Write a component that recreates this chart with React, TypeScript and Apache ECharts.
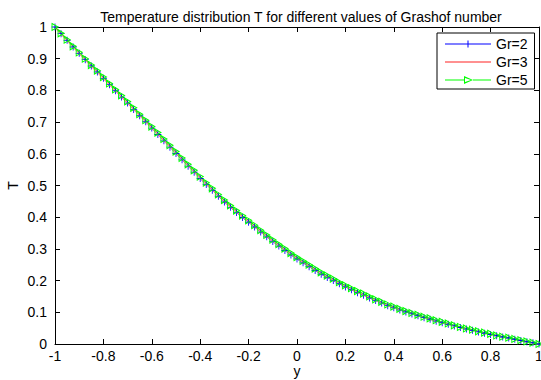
import React, { useEffect, useRef } from "react";
import * as echarts from "echarts";

const yPositions = [
  -1.0, -0.975, -0.95, -0.925, -0.9, -0.875, -0.85, -0.825, -0.8, -0.775,
  -0.75, -0.725, -0.7, -0.675, -0.65, -0.625, -0.6, -0.575, -0.55, -0.525,
  -0.5, -0.475, -0.45, -0.425, -0.4, -0.375, -0.35, -0.325, -0.3, -0.275,
  -0.25, -0.225, -0.2, -0.175, -0.15, -0.125, -0.1, -0.075, -0.05, -0.025,
  0.0, 0.025, 0.05, 0.075, 0.1, 0.125, 0.15, 0.175, 0.2, 0.225,
  0.25, 0.275, 0.3, 0.325, 0.35, 0.375, 0.4, 0.425, 0.45, 0.475,
  0.5, 0.525, 0.55, 0.575, 0.6, 0.625, 0.65, 0.675, 0.7, 0.725,
  0.75, 0.775, 0.8, 0.825, 0.85, 0.875, 0.9, 0.925, 0.95, 0.975, 1.0,
];

const tempGr2 = [
  1.0, 0.979, 0.958, 0.937, 0.917, 0.897, 0.877, 0.858, 0.838, 0.818,
  0.799, 0.779, 0.76, 0.74, 0.72, 0.701, 0.681, 0.661, 0.641, 0.621,
  0.601, 0.581, 0.561, 0.542, 0.522, 0.503, 0.485, 0.466, 0.448, 0.431,
  0.415, 0.399, 0.384, 0.369, 0.353, 0.338, 0.323, 0.309, 0.295, 0.281,
  0.268, 0.256, 0.244, 0.232, 0.22, 0.21, 0.2, 0.19, 0.18, 0.171,
  0.162, 0.154, 0.145, 0.137, 0.129, 0.121, 0.114, 0.107, 0.101, 0.095,
  0.089, 0.083, 0.078, 0.072, 0.067, 0.062, 0.057, 0.052, 0.047, 0.043,
  0.038, 0.034, 0.03, 0.026, 0.022, 0.019, 0.015, 0.011, 0.007, 0.004, 0.0,
];

const tempGr3 = [
  1.0, 0.979, 0.959, 0.938, 0.918, 0.898, 0.878, 0.859, 0.839, 0.82,
  0.801, 0.781, 0.762, 0.742, 0.722, 0.703, 0.683, 0.663, 0.643, 0.624,
  0.604, 0.584, 0.564, 0.545, 0.525, 0.506, 0.488, 0.469, 0.451, 0.434,
  0.418, 0.402, 0.387, 0.372, 0.356, 0.341, 0.326, 0.312, 0.298, 0.284,
  0.271, 0.259, 0.247, 0.235, 0.223, 0.213, 0.203, 0.193, 0.183, 0.173,
  0.164, 0.156, 0.147, 0.139, 0.131, 0.123, 0.116, 0.109, 0.103, 0.097,
  0.091, 0.084, 0.079, 0.073, 0.068, 0.063, 0.058, 0.053, 0.048, 0.044,
  0.039, 0.035, 0.031, 0.027, 0.023, 0.019, 0.015, 0.011, 0.007, 0.004, 0.0,
];

const tempGr5 = [
  1.0, 0.98, 0.96, 0.939, 0.92, 0.9, 0.88, 0.862, 0.842, 0.822,
  0.803, 0.784, 0.765, 0.745, 0.725, 0.706, 0.686, 0.667, 0.647, 0.627,
  0.607, 0.587, 0.567, 0.548, 0.528, 0.509, 0.491, 0.472, 0.454, 0.437,
  0.421, 0.405, 0.39, 0.375, 0.359, 0.344, 0.329, 0.315, 0.301, 0.287,
  0.274, 0.262, 0.25, 0.238, 0.226, 0.216, 0.206, 0.195, 0.185, 0.176,
  0.167, 0.159, 0.15, 0.141, 0.133, 0.125, 0.118, 0.111, 0.104, 0.098,
  0.092, 0.086, 0.081, 0.075, 0.07, 0.065, 0.059, 0.054, 0.049, 0.045,
  0.04, 0.036, 0.032, 0.027, 0.023, 0.02, 0.016, 0.012, 0.008, 0.004, 0.0,
];

const seriesNames = ["Gr=2", "Gr=3", "Gr=5"];

const FONT = "'Liberation Sans', Arial, Helvetica, sans-serif";

const pair = (vals: number[]) => yPositions.map((x, i) => [x, vals[i]]);

const PLUS = "path://M4.4,0h1.2v4.4h4.4v1.2h-4.4v4.4h-1.2v-4.4h-4.4v-1.2h4.4z";
const TRI_RIGHT = "path://M0,0L10,5L0,10Z";

// legend icons drawn in a 46x8 box (tiny corner specks fix the bounding box)
const BOX = "M0,0h0.01v0.01h-0.01zM45.99,7.99h0.01v0.01h-0.01z";
const ICON_GR2 = "path://" + BOX + "M0,3.5H46V4.5H0ZM22.5,0.5h1v7h-1Z";
const ICON_GR3 = "path://" + BOX + "M0,3H46V5H0Z";
const ICON_GR5 =
  "path://" + BOX + "M0,3.5H19V4.5H0ZM28,3.5H46V4.5H28ZM19,0L28,4L19,8ZM20,1.9L20,6.1L26,4Z";

export default function App() {
  const ref = useRef<HTMLDivElement>(null);
  useEffect(() => {
    if (!ref.current) return;
    const chart = echarts.init(ref.current, null, { renderer: "svg" });
    const axisLine = { show: true, onZero: false, lineStyle: { color: "#000", width: 1 } };
    const tick = { show: true, inside: true, length: 5, lineStyle: { color: "#000" } };
    const labelStyle = { fontFamily: FONT, fontSize: 14, color: "#000" };
    chart.setOption({
      animation: false,
      backgroundColor: "#fff",
      title: {
        text: "Temperature distribution T for different values of Grashof number",
        left: 296,
        textAlign: "center",
        top: 5,
        textStyle: { fontFamily: FONT, fontSize: 14, fontWeight: "normal", color: "#000" },
      },
      grid: { left: 55, right: 2, top: 27, bottom: 36, containLabel: false, outerBoundsMode: "none" },
      legend: {
        data: [
          { name: seriesNames[0], icon: ICON_GR2, itemStyle: { color: "#0000ff", borderWidth: 0 } },
          { name: seriesNames[1], icon: ICON_GR3, itemStyle: { color: "#ff9090", borderWidth: 0 } },
          { name: seriesNames[2], icon: ICON_GR5, itemStyle: { color: "#00ff00", borderWidth: 0 } },
        ],
        orient: "vertical",
        left: 437,
        top: 33,
        itemWidth: 46,
        itemHeight: 8,
        itemGap: 4,
        padding: [4, 7, 2, 8],
        borderColor: "#000",
        borderWidth: 1,
        borderRadius: 0,
        backgroundColor: "#fff",
        textStyle: labelStyle,
      },
      xAxis: [
        {
          type: "value",
          min: -1,
          max: 1,
          interval: 0.2,
          position: "bottom",
          name: "y",
          nameLocation: "middle",
          nameGap: 20,
          nameMoveOverlap: false,
          nameTextStyle: { ...labelStyle, lineHeight: 14 },
          axisLine,
          axisTick: tick,
          splitLine: { show: false },
          axisLabel: { ...labelStyle, lineHeight: 14, margin: 5 },
        },
        {
          type: "value",
          min: -1,
          max: 1,
          interval: 0.2,
          position: "top",
          axisLine,
          axisTick: tick,
          splitLine: { show: false },
          axisLabel: { show: false },
        },
      ],
      yAxis: [
        {
          type: "value",
          min: 0,
          max: 1,
          interval: 0.1,
          position: "left",
          name: "T",
          nameLocation: "middle",
          nameGap: 35,
          nameMoveOverlap: false,
          nameRotate: 90,
          nameTextStyle: labelStyle,
          axisLine,
          axisTick: tick,
          splitLine: { show: false },
          axisLabel: { ...labelStyle, margin: 8 },
        },
        {
          type: "value",
          min: 0,
          max: 1,
          interval: 0.1,
          position: "right",
          axisLine,
          axisTick: tick,
          splitLine: { show: false },
          axisLabel: { show: false },
        },
      ],
      series: [
        {
          name: seriesNames[0],
          type: "line",
          data: pair(tempGr2),
          xAxisIndex: 0,
          yAxisIndex: 0,
          symbol: PLUS,
          symbolSize: 7,
          showAllSymbol: true,
          itemStyle: { color: "#0000ff" },
          lineStyle: { color: "#0000ff", width: 1 },
        },
        {
          name: seriesNames[1],
          type: "line",
          data: pair(tempGr3),
          xAxisIndex: 0,
          yAxisIndex: 0,
          symbol: "none",
          itemStyle: { color: "#ff9090" },
          lineStyle: { color: "#ff9090", width: 2 },
        },
        {
          name: seriesNames[2],
          type: "line",
          data: pair(tempGr5),
          xAxisIndex: 0,
          yAxisIndex: 0,
          symbol: TRI_RIGHT,
          symbolSize: [6, 7],
          showAllSymbol: true,
          itemStyle: { color: "rgba(0,0,0,0)", borderColor: "#00ff00", borderWidth: 1 },
          lineStyle: { color: "#00ff00", width: 1 },
        },
      ],
    });
    return () => chart.dispose();
  }, []);
  return (
    <div
      ref={ref}
      style={{ position: "fixed", left: 0, top: 0, width: 541, height: 380 }}
    />
  );
}
